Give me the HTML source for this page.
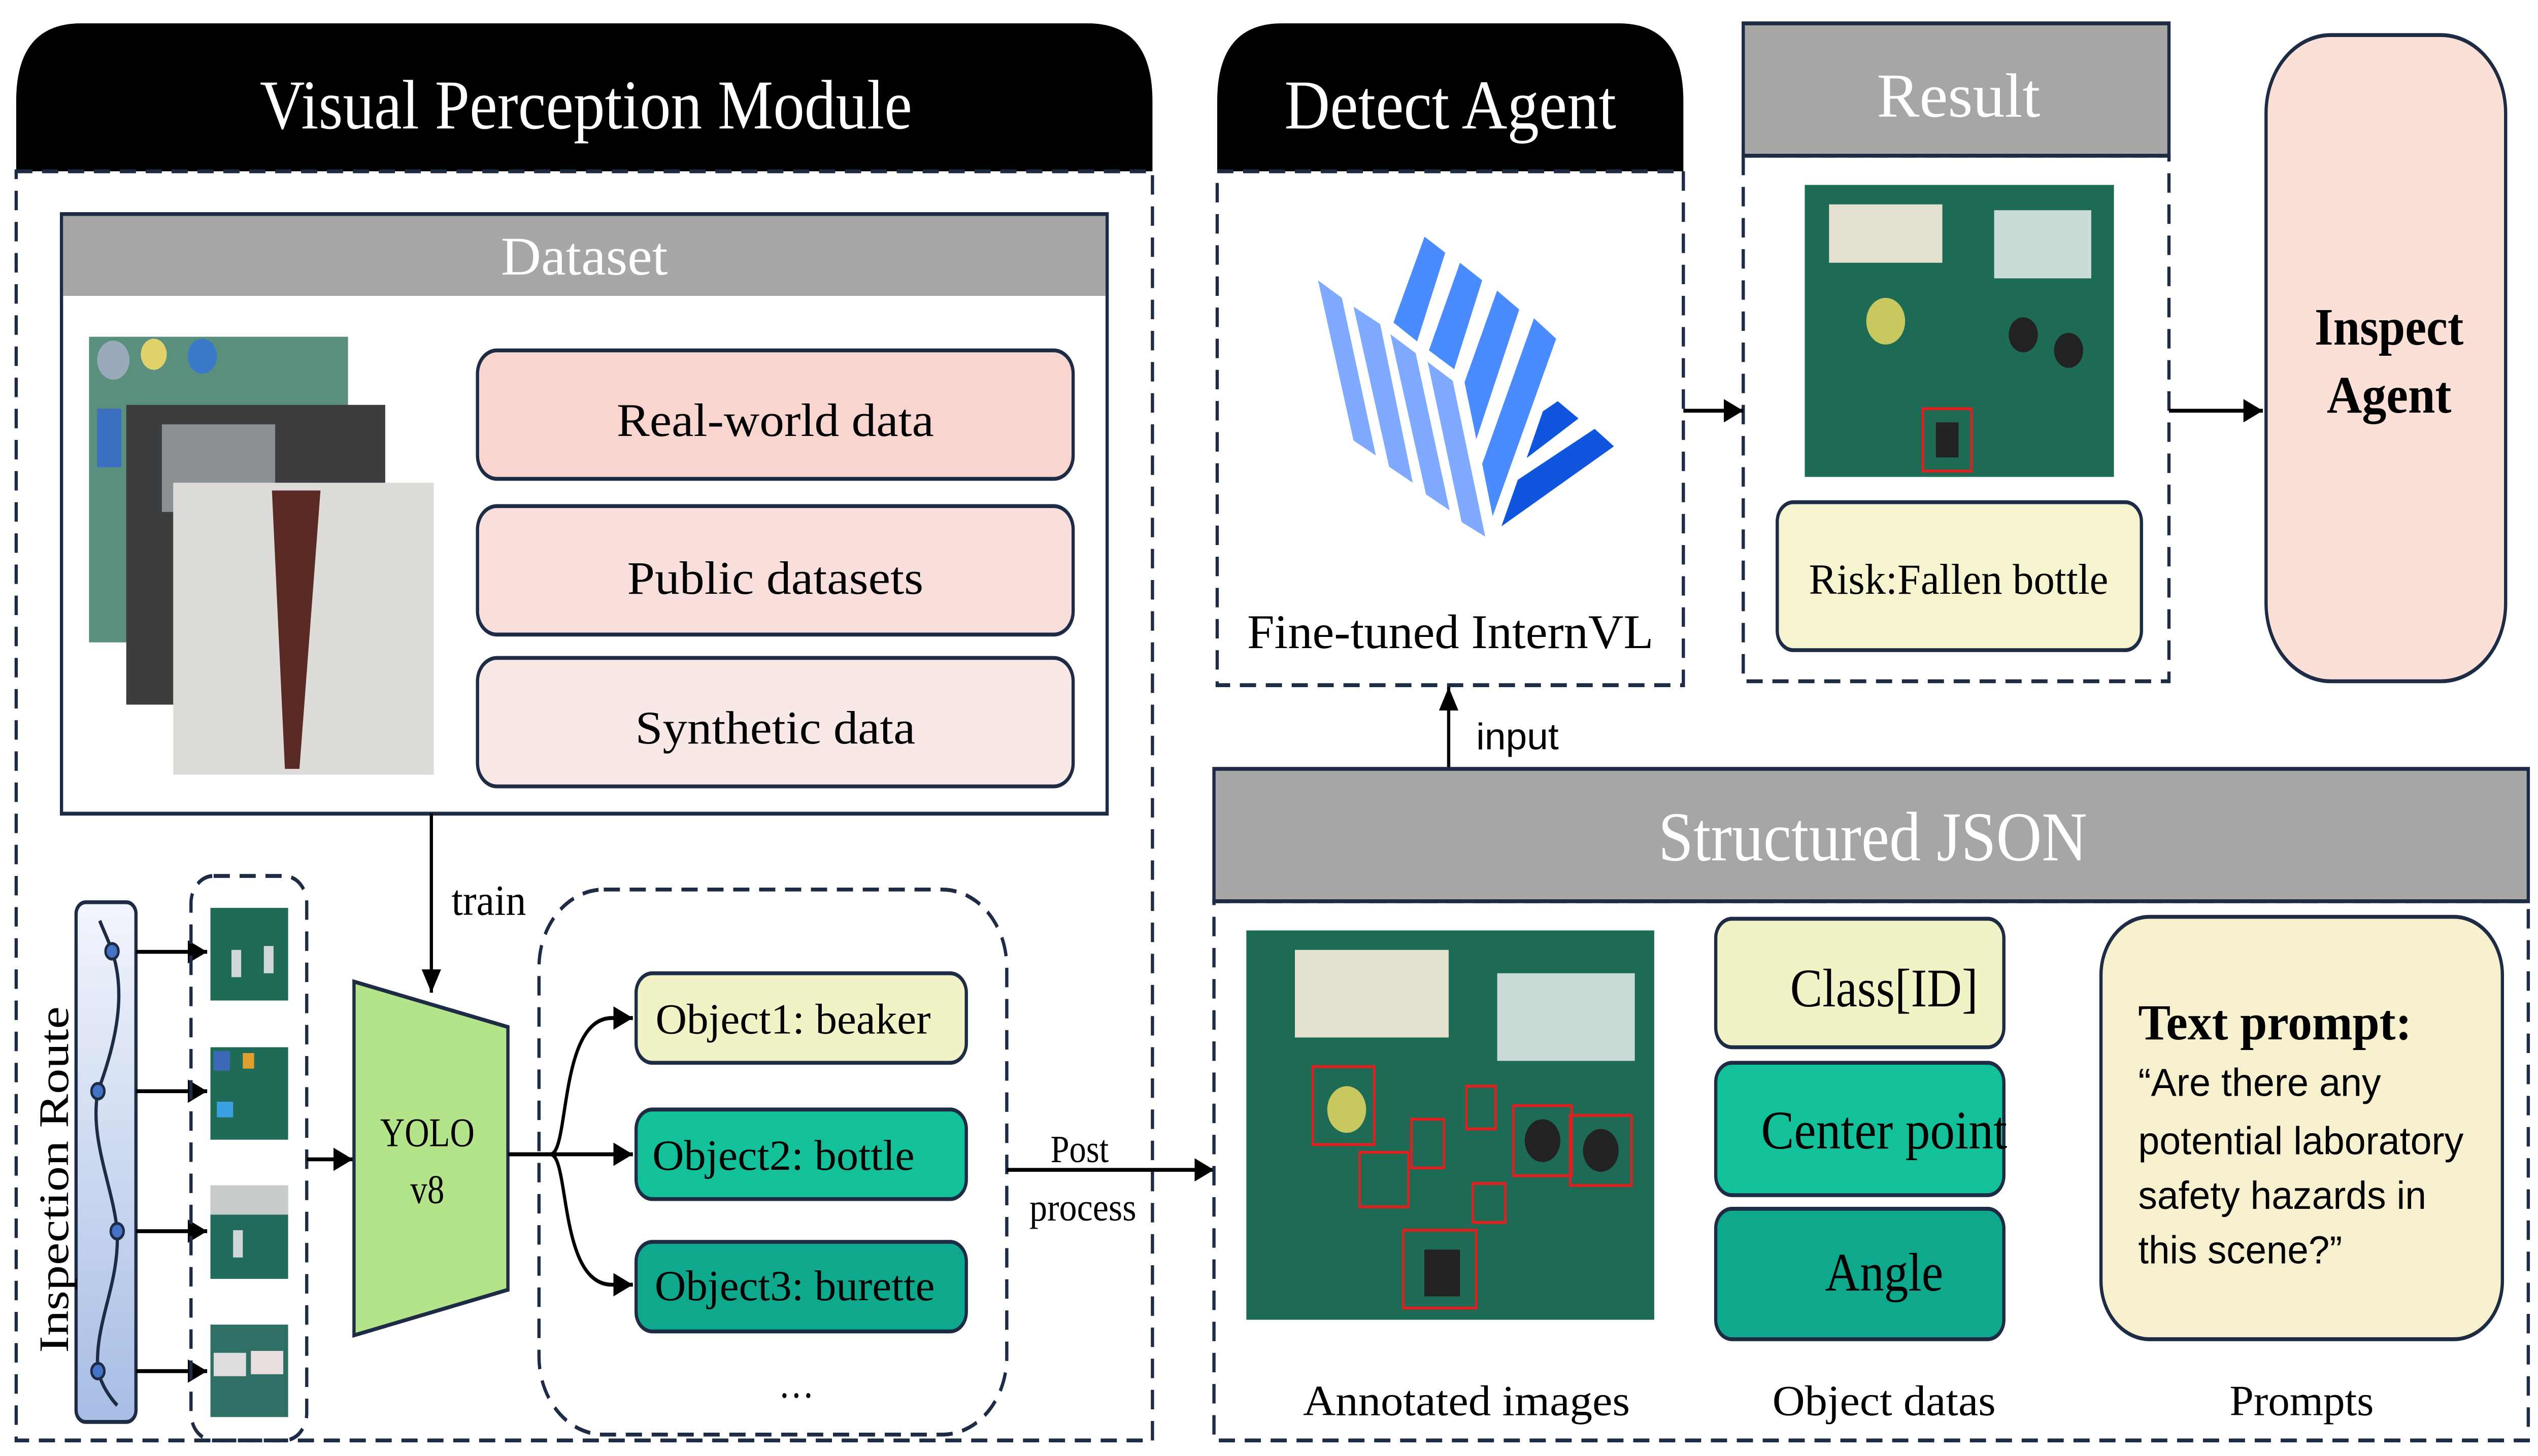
<!DOCTYPE html>
<html><head><meta charset="utf-8"><style>
html,body{margin:0;padding:0;background:#fff;width:100%;height:100%;overflow:hidden;}
svg{display:block;width:100vw;height:100vh;}
text{font-family:"Liberation Serif",serif;}
.s{font-family:"Liberation Sans",sans-serif;}
</style></head><body>
<svg viewBox="0 0 1568 748" preserveAspectRatio="none" xmlns="http://www.w3.org/2000/svg">
<defs>
<marker id="a2" viewBox="0 0 10 10" refX="10" refY="5" markerWidth="12" markerHeight="12" orient="auto" markerUnits="userSpaceOnUse">
<path d="M0,0 L10,5 L0,10 z" fill="#000"/></marker>
<linearGradient id="rg" x1="0" y1="0" x2="0" y2="1"><stop offset="0" stop-color="#f2f5fc"/><stop offset="1" stop-color="#a7bde5"/></linearGradient>
</defs>
<g fill="none" stroke="#1e2b45" stroke-width="2">
<path d="M10,88 V52 Q10,12 50,12 H672 Q712,12 712,52 V88 Z" fill="#000" stroke="none"/>
<rect x="10" y="88" width="702" height="652" stroke-dasharray="10 6"/>
<rect x="38" y="110" width="646" height="308" fill="#fff"/>
<rect x="39" y="111" width="644" height="41" fill="#a9a6a6" stroke="none"/>
</g>
<text x="362" y="66" font-size="36" fill="#fff" text-anchor="middle" textLength="403" lengthAdjust="spacingAndGlyphs">Visual Perception Module</text>
<text x="361" y="141" font-size="28" fill="#fff" text-anchor="middle" textLength="103" lengthAdjust="spacingAndGlyphs">Dataset</text>
<rect x="55" y="173" width="160" height="157" fill="#5a8f7e"/>
<circle cx="70" cy="185" r="10" fill="#9ab"/><circle cx="95" cy="182" r="8" fill="#e0d26a"/><circle cx="125" cy="183" r="9" fill="#3a78c8"/>
<rect x="60" y="210" width="15" height="30" fill="#3a6fc0"/>
<rect x="78" y="208" width="160" height="154" fill="#3b3d3e"/>
<rect x="100" y="218" width="70" height="45" fill="#8a9093"/>
<rect x="107" y="248" width="161" height="150" fill="#dedcd8"/>
<path d="M168,252 L198,252 L185,395 L176,395 Z" fill="#5a2a24"/>
<g fill="none" stroke="#1e2b45" stroke-width="2">
<rect x="295" y="180" width="368" height="66" rx="12" fill="#f9d5d0"/>
<rect x="295" y="260" width="368" height="66" rx="12" fill="#f9dfdc"/>
<rect x="295" y="338" width="368" height="66" rx="12" fill="#f8e9e6"/>
</g>
<text x="479" y="224" font-size="24" text-anchor="middle" textLength="196" lengthAdjust="spacingAndGlyphs">Real-world data</text>
<text x="479" y="305" font-size="24" text-anchor="middle" textLength="183" lengthAdjust="spacingAndGlyphs">Public datasets</text>
<text x="479" y="382" font-size="24" text-anchor="middle" textLength="173" lengthAdjust="spacingAndGlyphs">Synthetic data</text>
<line x1="266.5" y1="418" x2="266.5" y2="510" stroke="#000" stroke-width="2" marker-end="url(#a2)"/>
<text x="279" y="470" font-size="22" textLength="46" lengthAdjust="spacingAndGlyphs">train</text>
<rect x="47" y="463.5" width="37" height="267" rx="6" fill="url(#rg)" stroke="#1e2b45" stroke-width="2"/>
<path d="M61.6,473 C65,480 68,485 69.2,488.7 C78,510 72,535 60.5,560.6 C55,585 70,610 72.4,632.5 C74,660 58,680 60.5,704.4 C63,712 68,718 72.4,722" fill="none" stroke="#1e2b45" stroke-width="2"/>
<g fill="#4472c4" stroke="#1e2b45" stroke-width="1.5">
<circle cx="69.2" cy="488.7" r="4"/><circle cx="60.5" cy="560.6" r="4"/><circle cx="72.4" cy="632.5" r="4"/><circle cx="60.5" cy="704.4" r="4"/></g>
<text transform="translate(42,606) rotate(-90)" font-size="26" text-anchor="middle" textLength="178" lengthAdjust="spacingAndGlyphs">Inspection Route</text>
<g stroke="#000" stroke-width="2" marker-end="url(#a2)">
<line x1="84" y1="489" x2="128" y2="489"/><line x1="84" y1="560.6" x2="128" y2="560.6"/>
<line x1="84" y1="632.5" x2="128" y2="632.5"/><line x1="84" y1="704.4" x2="128" y2="704.4"/>
</g>
<rect x="118" y="450" width="71.5" height="290" rx="14" fill="none" stroke="#1e2b45" stroke-width="2" stroke-dasharray="10 6"/>
<rect x="130" y="466.4" width="48" height="47.6" fill="#1f6b57"/>
<rect x="143" y="488" width="6" height="14" fill="#cfd8d6"/><rect x="163" y="486" width="6" height="14" fill="#cfd8d6"/>
<rect x="130" y="538" width="48" height="47.5" fill="#1f6b57"/>
<rect x="132" y="540" width="10" height="10" fill="#3d6ab8"/><rect x="150" y="541" width="7" height="8" fill="#e0a030"/><rect x="134" y="566" width="10" height="8" fill="#3aa0e0"/>
<rect x="130" y="609" width="48" height="48" fill="#236b5c"/><rect x="130" y="609" width="48" height="15" fill="#c9cccc"/>
<rect x="144" y="632" width="6" height="14" fill="#cfd8d6"/>
<rect x="130" y="680.5" width="48" height="47.5" fill="#2e7066"/>
<rect x="132" y="695" width="20" height="12" fill="#ddd"/><rect x="155" y="694" width="20" height="12" fill="#e8dede"/>
<line x1="189.5" y1="595.6" x2="218" y2="595.6" stroke="#000" stroke-width="2" marker-end="url(#a2)"/>
<path d="M218.7,504.3 L313.8,527.6 L313.8,662.6 L218.7,686 Z" fill="#b4e48a" stroke="#1e2b45" stroke-width="2"/>
<text x="264" y="588.8" font-size="21" text-anchor="middle">YOLO</text>
<text x="264" y="618" font-size="21" text-anchor="middle">v8</text>
<rect x="333" y="457" width="289" height="280" rx="40" fill="none" stroke="#1e2b45" stroke-width="2" stroke-dasharray="10 6"/>
<g stroke="#000" stroke-width="2" fill="none">
<line x1="314" y1="593" x2="391" y2="593" marker-end="url(#a2)"/>
<path d="M314,593 L340,593 C352,593 345,523 378,523 L391,523" marker-end="url(#a2)"/>
<path d="M340,593 C352,593 345,660 378,660 L391,660" marker-end="url(#a2)"/>
<line x1="622" y1="601" x2="750" y2="601" marker-end="url(#a2)"/>
</g>
<g stroke="#1e2b45" stroke-width="2">
<rect x="393" y="500" width="204" height="46" rx="10" fill="#f1f2c6"/>
<rect x="393" y="570" width="204" height="46" rx="10" fill="#12c199"/>
<rect x="393" y="638" width="204" height="46" rx="10" fill="#0ea88c"/>
</g>
<text x="490" y="531" font-size="22" text-anchor="middle" textLength="170" lengthAdjust="spacingAndGlyphs">Object1: beaker</text>
<text x="484" y="601" font-size="22" text-anchor="middle" textLength="162" lengthAdjust="spacingAndGlyphs">Object2: bottle</text>
<text x="491" y="668" font-size="22" text-anchor="middle" textLength="173" lengthAdjust="spacingAndGlyphs">Object3: burette</text>
<text x="492" y="718" font-size="22" text-anchor="middle">…</text>
<text x="667" y="597" font-size="20" text-anchor="middle" textLength="36" lengthAdjust="spacingAndGlyphs">Post</text>
<text x="669" y="627" font-size="20" text-anchor="middle" textLength="66" lengthAdjust="spacingAndGlyphs">process</text>
<path d="M752,88 V52 Q752,12 792,12 H1000 Q1040,12 1040,52 V88 Z" fill="#000"/>
<rect x="752" y="88" width="288" height="264" fill="none" stroke="#1e2b45" stroke-width="2" stroke-dasharray="10 6"/>
<text x="896" y="66" font-size="36" fill="#fff" text-anchor="middle" textLength="205" lengthAdjust="spacingAndGlyphs">Detect Agent</text>
<g fill="#80aaff">
<polygon points="814.3,144 829,153 850,234 836.2,226.3"/>
<polygon points="836.2,157.5 852.7,166.5 872.8,248 858.2,239.8"/>
<polygon points="859,171.7 874.6,181.4 895.6,262.2 881,254"/>
<polygon points="882,185.9 897.5,195.6 917.6,275.7 903,268.2"/>
</g>
<g fill="#4a8bff">
<polygon points="880.1,121.6 892.9,129.8 875.5,175.4 860.9,165.7"/>
<polygon points="902,135 915.7,144 898.4,189.7 882.8,180"/>
<polygon points="924.9,149.3 938.6,159 912.1,225.6 904.8,196.4"/>
<polygon points="947.7,163.5 961.4,174 922.2,265.2 915.7,238.3"/>
</g>
<g fill="#0f55dd">
<polygon points="962.4,206.1 975.2,215 943.2,235.3 953.2,211.3"/>
<polygon points="985.2,220.3 997.1,229.3 927.6,270.4 937.7,246.5"/>
</g>
<text x="896" y="333" font-size="25" text-anchor="middle" textLength="251" lengthAdjust="spacingAndGlyphs">Fine-tuned InternVL</text>
<rect x="1077" y="12" width="263" height="68" fill="#a8a5a5" stroke="#1e2b45" stroke-width="2"/>
<rect x="1077" y="80" width="263" height="270" fill="none" stroke="#1e2b45" stroke-width="2" stroke-dasharray="10 6"/>
<text x="1210" y="60" font-size="32" fill="#fff" text-anchor="middle" textLength="101" lengthAdjust="spacingAndGlyphs">Result</text>
<rect x="1115" y="95" width="191" height="150" fill="#1d6a55"/>
<rect x="1130" y="105" width="70" height="30" fill="#e4e0d0"/><rect x="1232" y="108" width="60" height="35" fill="#c9dcd8"/>
<circle cx="1165" cy="165" r="12" fill="#c8c860"/><circle cx="1250" cy="172" r="9" fill="#222"/><circle cx="1278" cy="180" r="9" fill="#222"/>
<rect x="1188" y="210" width="30" height="32" fill="none" stroke="#e02020" stroke-width="1.5"/><rect x="1196" y="217" width="14" height="18" fill="#222"/>
<rect x="1098" y="258" width="225" height="76" rx="10" fill="#f6f3cf" stroke="#1e2b45" stroke-width="2"/>
<text x="1210" y="305" font-size="22" text-anchor="middle" textLength="185" lengthAdjust="spacingAndGlyphs">Risk:Fallen bottle</text>
<g stroke="#000" stroke-width="2">
<line x1="1040" y1="211" x2="1077" y2="211" marker-end="url(#a2)"/>
<line x1="1340" y1="211" x2="1398" y2="211" marker-end="url(#a2)"/>
<line x1="895" y1="395" x2="895" y2="353" marker-end="url(#a2)"/>
</g>
<rect x="1400" y="18" width="148" height="332" rx="40" fill="#fae0d6" stroke="#1e2b45" stroke-width="2"/>
<text x="1476" y="177" font-size="27" font-weight="bold" text-anchor="middle" textLength="92" lengthAdjust="spacingAndGlyphs">Inspect</text>
<text x="1476" y="212" font-size="27" font-weight="bold" text-anchor="middle" textLength="77" lengthAdjust="spacingAndGlyphs">Agent</text>
<text class="s" x="912" y="385" font-size="19" textLength="51" lengthAdjust="spacingAndGlyphs">input</text>
<rect x="750" y="395" width="812" height="68" fill="#a8a5a5" stroke="#1e2b45" stroke-width="2"/>
<rect x="750" y="463" width="812" height="277" fill="none" stroke="#1e2b45" stroke-width="2" stroke-dasharray="10 6"/>
<text x="1157" y="442" font-size="36" fill="#fff" text-anchor="middle" textLength="265" lengthAdjust="spacingAndGlyphs">Structured JSON</text>
<rect x="770" y="478" width="252" height="200" fill="#1d6a55"/>
<rect x="800" y="488" width="95" height="45" fill="#e4e0d0"/><rect x="925" y="500" width="85" height="45" fill="#c9dcd8"/>
<g fill="none" stroke="#e02020" stroke-width="1.5">
<rect x="811" y="548" width="38" height="40"/><rect x="872" y="575" width="20" height="25"/><rect x="906" y="558" width="18" height="22"/>
<rect x="935" y="568" width="36" height="36"/><rect x="970" y="573" width="38" height="36"/><rect x="840" y="592" width="30" height="28"/>
<rect x="867" y="632" width="45" height="40"/><rect x="910" y="608" width="20" height="20"/></g>
<circle cx="832" cy="570" r="12" fill="#c8c860"/><circle cx="953" cy="586" r="11" fill="#222"/><circle cx="989" cy="591" r="11" fill="#222"/><rect x="880" y="642" width="22" height="24" fill="#222"/>
<g stroke="#1e2b45" stroke-width="2">
<rect x="1060" y="472" width="178" height="66" rx="10" fill="#f1f2c6"/>
<rect x="1060" y="546" width="178" height="68" rx="10" fill="#12c199"/>
<rect x="1060" y="621" width="178" height="67" rx="10" fill="#0ea88c"/>
</g>
<text x="1164" y="517" font-size="28" text-anchor="middle" textLength="116" lengthAdjust="spacingAndGlyphs">Class[ID]</text>
<text x="1164" y="590" font-size="28" text-anchor="middle" textLength="152" lengthAdjust="spacingAndGlyphs">Center point</text>
<text x="1164" y="663" font-size="28" text-anchor="middle" textLength="73" lengthAdjust="spacingAndGlyphs">Angle</text>
<rect x="1298" y="471" width="248" height="217" rx="30" fill="#f6f0cf" stroke="#1e2b45" stroke-width="2"/>
<text x="1321" y="534" font-size="26" font-weight="bold" textLength="169" lengthAdjust="spacingAndGlyphs">Text prompt:</text>
<text class="s" x="1321" y="563" font-size="20" textLength="150" lengthAdjust="spacingAndGlyphs">“Are there any</text>
<text class="s" x="1321" y="593" font-size="20" textLength="201" lengthAdjust="spacingAndGlyphs">potential laboratory</text>
<text class="s" x="1321" y="621" font-size="20" textLength="178" lengthAdjust="spacingAndGlyphs">safety hazards in</text>
<text class="s" x="1321" y="649" font-size="20" textLength="126" lengthAdjust="spacingAndGlyphs">this scene?”</text>
<text x="906" y="727" font-size="22" text-anchor="middle" textLength="202" lengthAdjust="spacingAndGlyphs">Annotated images</text>
<text x="1164" y="727" font-size="22" text-anchor="middle" textLength="138" lengthAdjust="spacingAndGlyphs">Object datas</text>
<text x="1422" y="727" font-size="22" text-anchor="middle" textLength="89" lengthAdjust="spacingAndGlyphs">Prompts</text>
</svg>
</body></html>
